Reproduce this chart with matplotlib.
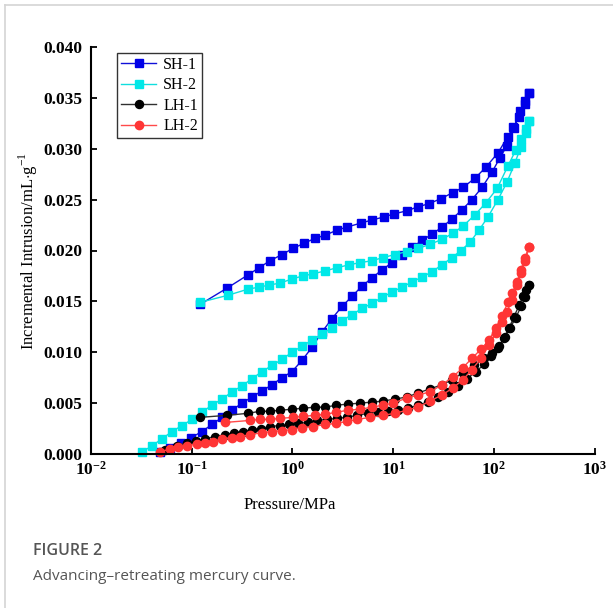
import matplotlib
matplotlib.use("Agg")
import matplotlib.pyplot as plt
import matplotlib.ticker as ticker
from matplotlib.lines import Line2D

plt.rcParams["mathtext.fontset"] = "custom"
plt.rcParams["mathtext.rm"] = "Liberation Serif"
plt.rcParams["mathtext.bf"] = "Liberation Serif:bold"

# ---- data (pressure in MPa, intrusion in mL/g) ----
sh1_adv_p = [0.0484, 0.0609, 0.0783, 0.0985, 0.126, 0.159, 0.200, 0.251, 0.316, 0.397,
             0.499, 0.627, 0.788, 0.991, 1.245, 1.57, 1.97, 2.47, 3.11, 3.91, 4.91,
             6.17, 7.76, 9.75, 12.2, 15.4, 19.4, 24.3, 30.6, 38.5, 48.3, 60.7, 76.4,
             95.9, 115, 135, 159, 182, 204, 224]
sh1_adv_v = [0.0002, 0.0006, 0.0011, 0.0016, 0.0022, 0.0029, 0.0036, 0.0043, 0.0050, 0.0056,
             0.0062, 0.0068, 0.0075, 0.0081, 0.0092, 0.0105, 0.0120, 0.0133, 0.0145, 0.0155,
             0.0165, 0.0173, 0.0181, 0.0188, 0.0196, 0.0203, 0.0210, 0.0216, 0.0223, 0.0231,
             0.0240, 0.0250, 0.0262, 0.0277, 0.0291, 0.0303, 0.0320, 0.0337, 0.0347, 0.0355]
sh1_ret_p = [224, 204, 178, 155, 138, 110, 83.7, 65.0, 49.4, 39.4, 29.9, 22.7, 17.7, 13.7,
             10.2, 8.13, 6.17, 4.80, 3.48, 2.77, 2.11, 1.68, 1.30, 1.01, 0.788, 0.600,
             0.466, 0.362, 0.224, 0.121]
sh1_ret_v = [0.0355, 0.0344, 0.0331, 0.0321, 0.0312, 0.0296, 0.0282, 0.0271, 0.0262, 0.0257,
             0.0251, 0.0246, 0.0243, 0.0239, 0.0236, 0.0233, 0.0230, 0.0227, 0.0223, 0.0220,
             0.0215, 0.0212, 0.0207, 0.0202, 0.0196, 0.0190, 0.0183, 0.0176, 0.0163, 0.0147]

sh2_adv_p = [0.0321, 0.0403, 0.0507, 0.0637, 0.0801, 0.1007, 0.126, 0.159, 0.200, 0.251,
             0.316, 0.397, 0.499, 0.627, 0.788, 0.991, 1.245, 1.57, 1.97, 2.47, 3.11,
             3.91, 4.91, 6.17, 7.76, 9.75, 12.2, 15.4, 19.4, 24.3, 30.6, 38.5, 47.2,
             58.0, 71.3, 87.5, 110, 135, 162, 186, 209, 224]
sh2_adv_v = [0.0002, 0.0008, 0.0015, 0.0022, 0.0028, 0.0034, 0.0041, 0.0048, 0.0054, 0.0061,
             0.0067, 0.0074, 0.0081, 0.0087, 0.0093, 0.0100, 0.0106, 0.0112, 0.0118, 0.0124,
             0.0131, 0.0137, 0.0143, 0.0148, 0.0154, 0.0159, 0.0164, 0.0169, 0.0174, 0.0179,
             0.0186, 0.0193, 0.0200, 0.0208, 0.0220, 0.0233, 0.0250, 0.0267, 0.0286, 0.0302,
             0.0315, 0.0327]
sh2_ret_p = [224, 209, 186, 166, 138, 108, 83.7, 65.0, 49.4, 39.4, 30.6, 23.2, 17.7, 13.7,
             10.4, 7.94, 6.17, 4.69, 3.65, 2.77, 2.11, 1.60, 1.27, 0.991, 0.753, 0.586,
             0.466, 0.362, 0.229, 0.121]
sh2_ret_v = [0.0327, 0.0319, 0.0310, 0.0299, 0.0283, 0.0261, 0.0247, 0.0235, 0.0224, 0.0217,
             0.0211, 0.0206, 0.0202, 0.0199, 0.0196, 0.0193, 0.0190, 0.0188, 0.0186, 0.0183,
             0.0180, 0.0177, 0.0175, 0.0172, 0.0168, 0.0166, 0.0164, 0.0162, 0.0156, 0.0149]

lh1_adv_p = [0.0543, 0.0715, 0.0898, 0.110, 0.135, 0.170, 0.214, 0.263, 0.323, 0.397,
             0.489, 0.600, 0.753, 0.924, 1.13, 1.42, 1.76, 2.22, 2.77, 3.48, 4.38,
             5.64, 7.08, 8.89, 11.2, 14.1, 17.7, 22.2, 27.9, 35.1, 44.1, 54.2, 66.5,
             80.0, 93.8, 110, 126, 142, 159, 178, 195, 209, 224]
lh1_adv_v = [0.0004, 0.0008, 0.0011, 0.0013, 0.0015, 0.0017, 0.0019, 0.0021, 0.0022, 0.0024,
             0.0025, 0.0027, 0.0028, 0.0029, 0.0030, 0.0031, 0.0033, 0.0034, 0.0035, 0.0036,
             0.0038, 0.0040, 0.0041, 0.0042, 0.0043, 0.0045, 0.0048, 0.0051, 0.0056, 0.0061,
             0.0067, 0.0074, 0.0081, 0.0088, 0.0096, 0.0104, 0.0114, 0.0124, 0.0135, 0.0146,
             0.0155, 0.0161, 0.0166]
lh1_ret_p = [224, 204, 186, 166, 145, 129, 113, 95.9, 80.0, 63.5, 49.4, 38.5, 30.6, 23.2,
             17.7, 13.7, 10.4, 7.94, 6.17, 4.69, 3.56, 2.74, 2.11, 1.68, 1.27, 0.991,
             0.753, 0.600, 0.478, 0.362, 0.224, 0.121]
lh1_ret_v = [0.0166, 0.0154, 0.0145, 0.0134, 0.0124, 0.0115, 0.0106, 0.0099, 0.0094, 0.0087,
             0.0080, 0.0073, 0.0068, 0.0064, 0.0060, 0.0056, 0.0054, 0.0052, 0.0051, 0.0050,
             0.0049, 0.0048, 0.0046, 0.0046, 0.0045, 0.0044, 0.0043, 0.0042, 0.0042, 0.0040,
             0.0038, 0.0036]

lh2_adv_p = [0.0484, 0.0609, 0.0731, 0.0898, 0.113, 0.135, 0.163, 0.200, 0.251, 0.303,
             0.380, 0.499, 0.627, 0.788, 0.991, 1.245, 1.60, 2.11, 2.71, 3.48, 4.40,
             5.90, 7.94, 10.4, 13.7, 17.7, 23.2, 30.6, 39.4, 49.4, 60.7, 74.6, 89.7,
             105, 121, 135, 152, 170, 186, 204, 224]
lh2_adv_v = [0.0002, 0.0005, 0.0007, 0.0008, 0.0010, 0.0011, 0.0012, 0.0015, 0.0016, 0.0017,
             0.0019, 0.0021, 0.0022, 0.0023, 0.0024, 0.0026, 0.0027, 0.0029, 0.0030, 0.0032,
             0.0034, 0.0036, 0.0038, 0.0040, 0.0043, 0.0046, 0.0052, 0.0058, 0.0065, 0.0073,
             0.0083, 0.0094, 0.0107, 0.0119, 0.0130, 0.0140, 0.0151, 0.0166, 0.0178, 0.0190,
             0.0203]
lh2_ret_p = [224, 204, 186, 170, 152, 138, 121, 105, 89.7, 74.6, 60.7, 49.4, 39.4, 30.6,
             23.2, 17.7, 13.7, 9.98, 7.94, 6.17, 4.69, 3.56, 2.71, 2.11, 1.68, 1.27,
             1.01, 0.753, 0.600, 0.478, 0.380, 0.214]
lh2_ret_v = [0.0203, 0.0193, 0.0181, 0.0169, 0.0158, 0.0149, 0.0136, 0.0124, 0.0112, 0.0103,
             0.0094, 0.0085, 0.0076, 0.0068, 0.0061, 0.0058, 0.0055, 0.0050, 0.0048, 0.0046,
             0.0044, 0.0043, 0.0041, 0.0039, 0.0038, 0.0037, 0.0036, 0.0035, 0.0034, 0.0034,
             0.0033, 0.0031]

series_names = ["SH-1", "SH-2", "LH-1", "LH-2"]
x_ticks = [1e-2, 1e-1, 1e0, 1e1, 1e2, 1e3]
x_tick_labels = [r"$\mathbf{10^{-2}}$", r"$\mathbf{10^{-1}}$", r"$\mathbf{10^{0}}$",
                 r"$\mathbf{10^{1}}$", r"$\mathbf{10^{2}}$", r"$\mathbf{10^{3}}$"]
y_ticks = [0.000, 0.005, 0.010, 0.015, 0.020, 0.025, 0.030, 0.035, 0.040]

# (marker, line colour, marker colour, marker size)
styles = [
    ("s", "#1010d8", "#0000e8", 5.2),
    ("s", "#10dede", "#00e8e8", 5.6),
    ("o", "#303030", "#000000", 5.8),
    ("o", "#ff4a4a", "#ff3535", 6.0),
]

fig = plt.figure(figsize=(6.13, 6.08), dpi=100)
W, H = 613, 608
ax = fig.add_axes([91 / W, 1 - 454 / H, (594.5 - 91) / W, (454 - 47) / H])

curves = [
    (sh1_adv_p + sh1_ret_p, sh1_adv_v + sh1_ret_v),
    (sh2_adv_p + sh2_ret_p, sh2_adv_v + sh2_ret_v),
    (lh1_adv_p + lh1_ret_p, lh1_adv_v + lh1_ret_v),
    (lh2_adv_p + lh2_ret_p, lh2_adv_v + lh2_ret_v),
]
for (px, pv), name, (mk, lc, mc, ms) in zip(curves, series_names, styles):
    ax.plot(px, pv, color=lc, linewidth=1.0, marker=mk, markersize=ms,
            markerfacecolor=mc, markeredgecolor=mc, label=name, clip_on=False)

ax.set_xscale("log")
ax.set_xlim(1e-2, 1e3)
ax.set_ylim(0, 0.040)
ax.xaxis.set_major_locator(ticker.FixedLocator(x_ticks))
ax.xaxis.set_major_formatter(ticker.FixedFormatter(x_tick_labels))
ax.xaxis.set_minor_locator(ticker.NullLocator())
ax.set_yticks(y_ticks)
ax.set_yticklabels([f"{v:.3f}" for v in y_ticks])

for s in ("top", "right"):
    ax.spines[s].set_visible(False)
for s in ("left", "bottom"):
    ax.spines[s].set_linewidth(1.5)

ax.tick_params(axis="both", direction="in", length=4.5, width=1.3)
ax.tick_params(axis="y", pad=6.5, labelsize=12.5)
ax.tick_params(axis="x", pad=5, labelsize=12.5)
for lab in ax.get_yticklabels():
    lab.set_fontfamily("Liberation Serif")
    lab.set_fontweight("bold")

ax.set_xlabel("Pressure/MPa", fontfamily="Liberation Serif", fontsize=12)
ax.xaxis.set_label_coords((290 - 91) / 503.5, -0.105)
ax.set_ylabel(r"Incremental Intrusion/mL$\cdot$g$^{-1}$", fontfamily="Liberation Serif",
              fontsize=12)
ax.yaxis.set_label_coords((40 - 91) / 503.5, 0.5)

leg = ax.legend(loc="upper left", bbox_to_anchor=((117 - 91) / 503.5, 1 - (53 - 47) / 407),
                prop={"family": "Liberation Serif", "size": 11.5}, frameon=True,
                fancybox=False, edgecolor="black", borderpad=0.25, labelspacing=0.28,
                handlelength=2.2, handletextpad=0.45, borderaxespad=0)
leg.get_frame().set_linewidth(1.0)

# caption below the chart
fig.text(33 / W, 1 - 551 / H, "FIGURE 2", fontfamily="Open Sans", fontsize=11.5,
         color="#555555", va="center", ha="left", fontweight="semibold")
fig.text(33 / W, 1 - 577 / H, "Advancing\u2013retreating mercury curve.",
         fontfamily="Open Sans", fontsize=11, color="#555555", va="center", ha="left")

# light page frame at left and top
fig.add_artist(Line2D([5 / W, 5 / W], [0, 1 - 5 / H], color="#d4d4d4", linewidth=1.2,
                      transform=fig.transFigure))
fig.add_artist(Line2D([5 / W, 1], [1 - 5 / H, 1 - 5 / H], color="#d4d4d4", linewidth=1.2,
                      transform=fig.transFigure))

fig.savefig("out.png", dpi=100)
